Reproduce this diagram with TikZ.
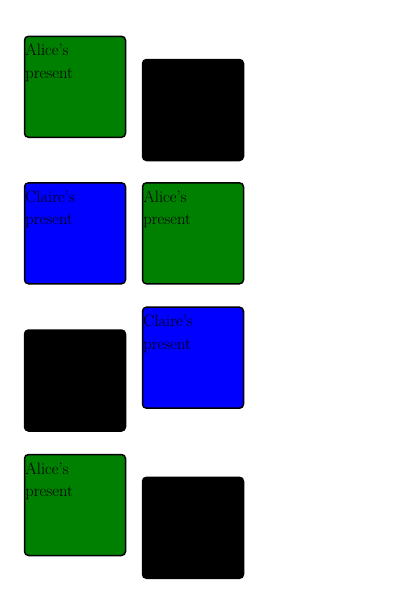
\documentclass[tikz,border=0pt]{standalone}
\begin{document}
\begin{tikzpicture}[x=1pt,y=-1pt,
  box/.style={draw=black,line width=1.5pt,rounded corners=4pt,minimum width=101pt,minimum height=101pt,inner sep=0pt},
  gbox/.style={box,fill=htmlgreen},
  bbox/.style={box,fill=htmlblue},
  kbox/.style={box,fill=black},
  lbl/.style={anchor=north west,inner sep=0pt,align=left,font=\fontsize{16.5}{22.4}\selectfont}]
\definecolor{htmlgreen}{RGB}{0,128,0}
\definecolor{htmlblue}{RGB}{0,0,255}
\useasboundingbox (0,0) rectangle (400,595);
\node[gbox] (b1) at (75,86.8) {};
\node[kbox] (b2) at (193,110) {};
\node[bbox] (b3) at (75,233.3) {};
\node[gbox] (b4) at (193,233.3) {};
\node[kbox] (b5) at (75,380.5) {};
\node[bbox] (b6) at (193,357.7) {};
\node[gbox] (b7) at (75,505) {};
\node[kbox] (b8) at (193,527.8) {};
\node[lbl] (t1) at ([xshift=1.5pt,yshift=-8.5pt]b1.north west) {Alice's\\present};
\node[lbl] (t3) at ([xshift=1.5pt,yshift=-8.5pt]b3.north west) {Claire's\\present};
\node[lbl] (t4) at ([xshift=1.5pt,yshift=-8.5pt]b4.north west) {Alice's\\present};
\node[lbl] (t6) at ([xshift=1.5pt,yshift=-8.5pt]b6.north west) {Claire's\\present};
\node[lbl] (t7) at ([xshift=1.5pt,yshift=-8.5pt]b7.north west) {Alice's\\present};
\end{tikzpicture}
\end{document}
